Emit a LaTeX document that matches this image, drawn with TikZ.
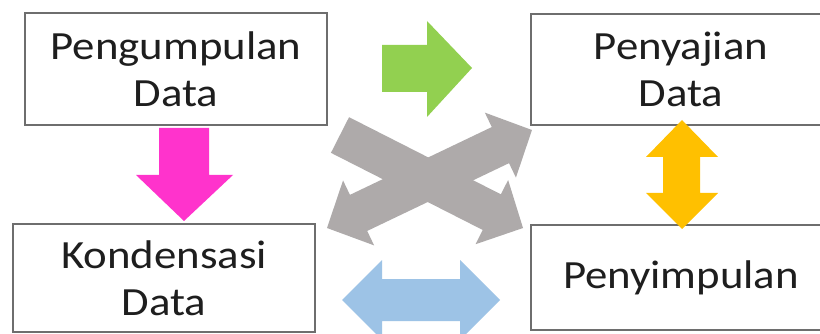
\documentclass[tikz,border=0pt]{standalone}
\usepackage{fontspec}
\setmainfont[FakeStretch=1.12]{Carlito}
\definecolor{boxline}{RGB}{110,110,110}
\definecolor{arrgreen}{RGB}{146,208,80}
\definecolor{arrpink}{RGB}{255,51,204}
\definecolor{arrorange}{RGB}{255,192,0}
\definecolor{arrblue}{RGB}{157,195,230}
\definecolor{arrgray}{RGB}{174,170,170}
\definecolor{txt}{RGB}{30,30,30}
\begin{document}
\begin{tikzpicture}[x=1pt,y=-1pt,
  box/.style={draw=boxline, line width=1.3pt, fill=white, inner sep=0pt,
    align=center, font=\fontsize{40}{47}\selectfont, text=txt},
  blockarrow/.style={draw=none}]
\useasboundingbox (0,0) rectangle (820,334);
\clip (0,0) rectangle (820,334);
\fill[white] (0,0) rectangle (820,334);

% boxes
\node[box, minimum width=302pt, minimum height=112pt] (b1) at (176,69) {Pengumpulan\\Data};
\node[box, minimum width=302pt, minimum height=108pt] (b2) at (164,278) {Kondensasi\\Data};
\node[box, minimum width=300pt, minimum height=111pt] (b3) at (681,69.5) {Penyajian\\Data};
\node[box, minimum width=300pt, minimum height=105pt] (b4) at (681,277.5) {Penyimpulan};

% green arrow (right)
\fill[blockarrow, arrgreen] (382,45) -- (427,45) -- (427,21) -- (472,68) -- (427,117) -- (427,92) -- (382,92) -- cycle;
% pink arrow (down)
\fill[blockarrow, arrpink] (159,128) -- (209,128) -- (209,175) -- (233,175) -- (184,221) -- (136,175) -- (159,175) -- cycle;
% orange double arrow (vertical)
\fill[blockarrow, arrorange] (682,120) -- (718,157) -- (700,157) -- (700,193) -- (718,193) -- (682,229)
  -- (646,193) -- (663,193) -- (663,157) -- (646,157) -- cycle;
% blue double arrow (horizontal)
\fill[blockarrow, arrblue] (342,300) -- (382,260) -- (382,279) -- (460,279) -- (460,260) -- (500,300)
  -- (460,340) -- (460,321) -- (382,321) -- (382,340) -- cycle;

% gray crossing arrows
\begin{scope}[shift={(340,135)}, rotate=-26.94]
  \fill[blockarrow, arrgray] (0,-20) -- (170.3,-20) -- (170.3,-36) -- (205.3,0) -- (170.3,36) -- (170.3,20) -- (0,20) -- cycle;
\end{scope}
\begin{scope}[shift={(327,228)}, rotate=25.55]
  \fill[blockarrow, arrgray] (0,0) -- (35,-36) -- (35,-20) -- (192.2,-20) -- (192.2,-36) -- (227.2,0)
    -- (192.2,36) -- (192.2,20) -- (35,20) -- (35,36) -- cycle;
\end{scope}
\end{tikzpicture}
\end{document}
